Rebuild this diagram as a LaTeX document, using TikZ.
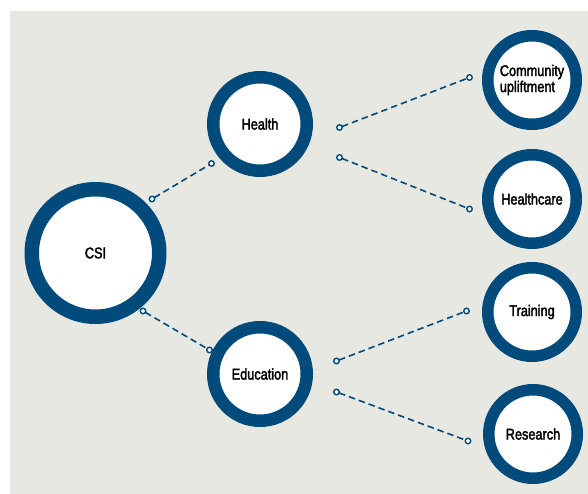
\documentclass[tikz,border=0pt]{standalone}
\usepackage{fontspec}
\setmainfont{Liberation Sans}[FakeStretch=0.82, FakeBold=2.2]
\definecolor{ringblue}{RGB}{0,74,124}
\definecolor{bggray}{RGB}{232,232,227}
\begin{document}
\begin{tikzpicture}[x=1pt,y=-1pt,
  ring/.style={circle, draw=ringblue, fill=white, inner sep=0pt, outer sep=0pt,
    font=\fontsize{15.5}{17}\selectfont, text=black},
  bigring/.style={ring, line width=14.5pt, minimum size=127.5pt},
  midring/.style={ring, line width=12.5pt, minimum size=93.5pt},
  leafring/.style={ring, line width=11.5pt, minimum size=88.5pt},
  pin/.style={circle, draw=ringblue, fill=white, line width=1.4pt, inner sep=0pt,
    outer sep=0pt, minimum size=5.5pt},
  link/.style={draw=ringblue, line width=1.6pt, dash pattern=on 6.5pt off 4pt}]
\useasboundingbox (0,0) rectangle (588,494);
\fill[white] (0,0) rectangle (588,494);
\fill[bggray] (10,11) rectangle (588,494);

\node[bigring] (csi) at (95.5,253) {CSI};
\node[midring] (health) at (260,124) {Health};
\node[midring] (edu) at (260,374) {Education};
\node[leafring, align=left] (comm) at (532,80) {Community\\[-1pt]upliftment};
\node[leafring] (care) at (532,199) {Healthcare};
\node[leafring] (train) at (532,312) {Training};
\node[leafring] (res) at (533,434) {Research};

\node[pin] (p1) at (152,199) {};
\node[pin] (p2) at (211.5,163.5) {};
\node[pin] (p3) at (143,311) {};
\node[pin] (p4) at (209.5,350) {};
\node[pin] (p5) at (339.5,127.5) {};
\node[pin] (p6) at (469.5,77.5) {};
\node[pin] (p7) at (339.5,157.5) {};
\node[pin] (p8) at (469.5,209) {};
\node[pin] (p9) at (336.5,361) {};
\node[pin] (p10) at (466.5,311) {};
\node[pin] (p11) at (336.5,392) {};
\node[pin] (p12) at (468,441) {};

\draw[link] (p1) -- (p2);
\draw[link] (p3) -- (p4);
\draw[link] (p5) -- (p6);
\draw[link] (p7) -- (p8);
\draw[link] (p9) -- (p10);
\draw[link] (p11) -- (p12);
\end{tikzpicture}
\end{document}
